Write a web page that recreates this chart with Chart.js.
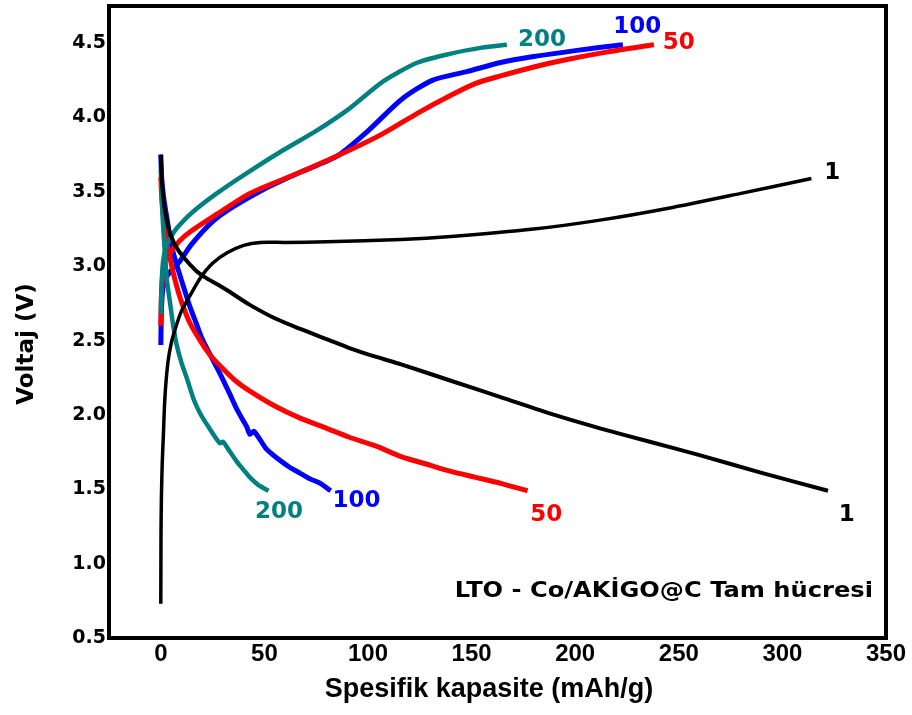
<!DOCTYPE html>
<html>
<head>
<meta charset="utf-8">
<script src="https://cdn.jsdelivr.net/npm/chart.js@4.4.1/dist/chart.umd.min.js"></script>
<style>
  html, body { margin: 0; padding: 0; background: #fff; }
  #wrap { width: 912px; height: 715px; position: relative; }
</style>
</head>
<body>
<div id="wrap"><canvas id="voltChart"></canvas></div>
<script>
// Axis ticks
const xTicks = [0, 50, 100, 150, 200, 250, 300, 350];
const yTicks = [0.5, 1.0, 1.5, 2.0, 2.5, 3.0, 3.5, 4.0, 4.5];

// Rate "1" - charge / discharge
const capChg1 = [0, 0.1, 0.3, 0.7, 1.2, 2, 3.4, 5, 7, 10, 14, 19, 25, 32, 40, 48, 60, 80, 116, 140, 180, 212, 245, 280, 314];
const voltChg1 = [0.73, 1.2, 1.45, 1.68, 1.85, 2.12, 2.35, 2.48, 2.58, 2.7, 2.8, 2.92, 3.02, 3.09, 3.14, 3.16, 3.16, 3.165, 3.18, 3.2, 3.25, 3.31, 3.39, 3.49, 3.59];
const capDis1 = [0, 0.5, 1.5, 3, 4.5, 7, 11, 17, 22, 27, 33, 43, 55, 67, 80, 91, 104, 116, 140, 164, 190, 212, 236, 260, 290, 322];
const voltDis1 = [3.75, 3.58, 3.42, 3.3, 3.22, 3.14, 3.06, 2.97, 2.92, 2.88, 2.83, 2.74, 2.65, 2.58, 2.51, 2.45, 2.39, 2.34, 2.23, 2.12, 2.0, 1.91, 1.82, 1.73, 1.61, 1.49];

// Rate "50"
const capChg50 = [0, 0.3, 1, 2.5, 5, 9, 15, 27, 43, 67, 91, 107, 124, 140, 152, 164, 180, 196, 215, 238];
const voltChg50 = [2.6, 2.8, 2.95, 3.05, 3.1, 3.17, 3.24, 3.35, 3.49, 3.63, 3.78, 3.89, 4.03, 4.15, 4.23, 4.28, 4.34, 4.39, 4.44, 4.49];
const capDis50 = [0, 0.5, 1.5, 3, 4.5, 7, 10, 14, 19, 24, 30, 36, 43, 55, 67, 80, 91, 104, 116, 128, 140, 152, 164, 177];
const voltDis50 = [3.6, 3.45, 3.3, 3.15, 3.05, 2.9, 2.76, 2.62, 2.5, 2.4, 2.31, 2.23, 2.16, 2.06, 1.98, 1.91, 1.85, 1.79, 1.72, 1.67, 1.62, 1.58, 1.54, 1.49];

// Rate "100"
const capChg100 = [0, 0.3, 1, 2.5, 5, 9, 15, 25, 35, 50, 67, 85, 100, 116, 131, 148, 164, 180, 200, 223];
const voltChg100 = [2.47, 2.7, 2.85, 2.92, 2.97, 3.03, 3.15, 3.3, 3.4, 3.52, 3.63, 3.74, 3.91, 4.12, 4.25, 4.31, 4.37, 4.41, 4.45, 4.49];
const capDis100 = [0, 0.5, 1.5, 3, 5, 7, 9, 11, 14, 17, 20, 24, 28.5, 33, 37, 41.5, 43, 45, 51, 57, 62, 67, 72, 77, 82];
const voltDis100 = [3.75, 3.58, 3.45, 3.32, 3.15, 3.04, 2.95, 2.86, 2.73, 2.62, 2.51, 2.40, 2.28, 2.15, 2.03, 1.92, 1.87, 1.89, 1.77, 1.70, 1.65, 1.61, 1.57, 1.54, 1.49];

// Rate "200"
const capChg200 = [0, 0.3, 1, 2.5, 5, 8, 15, 27, 43, 59, 75, 91, 107, 124, 140, 155, 167];
const voltChg200 = [2.68, 2.85, 3.02, 3.13, 3.2, 3.26, 3.36, 3.49, 3.64, 3.78, 3.91, 4.06, 4.24, 4.37, 4.43, 4.47, 4.49];
const capDis200 = [0, 0.5, 1, 2, 3, 4.5, 6, 7.5, 10, 12.5, 16, 19, 23, 28.5, 30, 33, 36.5, 40, 43, 47, 52];
const voltDis200 = [3.65, 3.45, 3.3, 3.08, 2.9, 2.75, 2.6, 2.48, 2.35, 2.25, 2.1, 2.01, 1.92, 1.81, 1.82, 1.76, 1.69, 1.63, 1.58, 1.53, 1.49];

// Curve labels, placed in data units
const curveLabels = ['1', '1', '50', '50', '100', '100', '200', '200'];
const labelCap = [324, 331, 250, 186, 230, 94.5, 184, 57];
const labelVolt = [3.63, 1.33, 4.50, 1.33, 4.61, 1.42, 4.52, 1.35];
const labelColors = ['#000000', '#000000', '#ff0000', '#ff0000', '#0000ff', '#0000ff', '#008080', '#008080'];

function zip(xs, ys) {
    return xs.map((x, i) => ({ x: x, y: ys[i] }));
}

function curve(xs, ys, color, width, order) {
    return {
        data: zip(xs, ys),
        showLine: true,
        borderColor: color,
        borderWidth: width,
        pointRadius: 0,
        tension: 0.25,
        fill: false,
        order: order
    };
}

const decorPlugin = {
    id: 'decor',
    afterDraw(chart) {
        const ctx = chart.ctx;
        const a = chart.chartArea;
        const xs = chart.scales.x;
        const ys = chart.scales.y;
        ctx.save();

        // frame
        ctx.strokeStyle = '#000';
        ctx.lineWidth = 4;
        ctx.strokeRect(a.left, a.top, a.right - a.left, a.bottom - a.top);

        // curve labels
        ctx.font = 'bold 23px "DejaVu Sans"';
        ctx.textAlign = 'center';
        ctx.textBaseline = 'middle';
        curveLabels.forEach((t, i) => {
            ctx.fillStyle = labelColors[i];
            ctx.fillText(t, xs.getPixelForValue(labelCap[i]), ys.getPixelForValue(labelVolt[i]));
        });

        // cell note
        ctx.fillStyle = '#000';
        ctx.font = 'bold 21px "DejaVu Sans"';
        ctx.textAlign = 'right';
        ctx.textBaseline = 'alphabetic';
        ctx.save();
        ctx.translate(a.right - 13, a.bottom - 41);
        ctx.scale(1.15, 1);
        ctx.fillText('LTO - Co/AKİGO@C Tam hücresi', 0, 0);
        ctx.restore();

        // axis titles
        ctx.textAlign = 'center';
        ctx.textBaseline = 'middle';
        ctx.font = 'bold 27px "Liberation Sans", Arial, sans-serif';
        ctx.fillText('Spesifik kapasite (mAh/g)', 489, 690);
        ctx.save();
        ctx.translate(27, 344);
        ctx.rotate(-Math.PI / 2);
        ctx.font = 'bold 23px "DejaVu Sans"';
        ctx.fillText('Voltaj (V)', 0, 0);
        ctx.restore();

        ctx.restore();
    }
};

function initVoltChart() {
    const ctx = document.getElementById('voltChart');
    if (!ctx) return;

    new Chart(ctx, {
        type: 'scatter',
        data: {
            datasets: [
                curve(capChg1, voltChg1, '#000000', 3.5, 0),
                curve(capDis1, voltDis1, '#000000', 4, 0),
                curve(capChg200, voltChg200, '#008080', 4.5, 1),
                curve(capDis200, voltDis200, '#008080', 4.5, 1),
                curve(capChg50, voltChg50, '#ff0000', 5, 2),
                curve(capDis50, voltDis50, '#ff0000', 5, 2),
                curve(capChg100, voltChg100, '#0000ff', 5, 3),
                curve(capDis100, voltDis100, '#0000ff', 5, 3)
            ]
        },
        options: {
            responsive: true,
            maintainAspectRatio: false,
            animation: false,
            layout: { padding: { top: 6, right: 26, left: 0, bottom: 0 } },
            plugins: {
                legend: { display: false },
                tooltip: { enabled: false }
            },
            scales: {
                x: {
                    type: 'linear',
                    min: -25,
                    max: 350,
                    afterFit: s => { s.height = 77; s.paddingLeft = 0; s.paddingRight = 0; },
                    afterBuildTicks: s => { s.ticks = xTicks.map(v => ({ value: v })); },
                    grid: { display: false, drawTicks: false },
                    border: { display: false },
                    ticks: {
                        color: '#000',
                        padding: 2,
                        maxRotation: 0,
                        font: { family: '"Liberation Sans", Arial, sans-serif', size: 24, weight: 'bold' }
                    }
                },
                y: {
                    type: 'linear',
                    min: 0.5,
                    max: 4.75,
                    afterFit: s => { s.width = 109; s.paddingTop = 0; s.paddingBottom = 0; },
                    afterBuildTicks: s => { s.ticks = yTicks.map(v => ({ value: v })); },
                    grid: { display: false, drawTicks: false },
                    border: { display: false },
                    ticks: {
                        color: '#000',
                        padding: 3,
                        callback: v => v.toFixed(1),
                        font: { family: '"DejaVu Sans"', size: 19, weight: 'bold' }
                    }
                }
            }
        },
        plugins: [decorPlugin]
    });
}

document.addEventListener('DOMContentLoaded', initVoltChart);
</script>
</body>
</html>
